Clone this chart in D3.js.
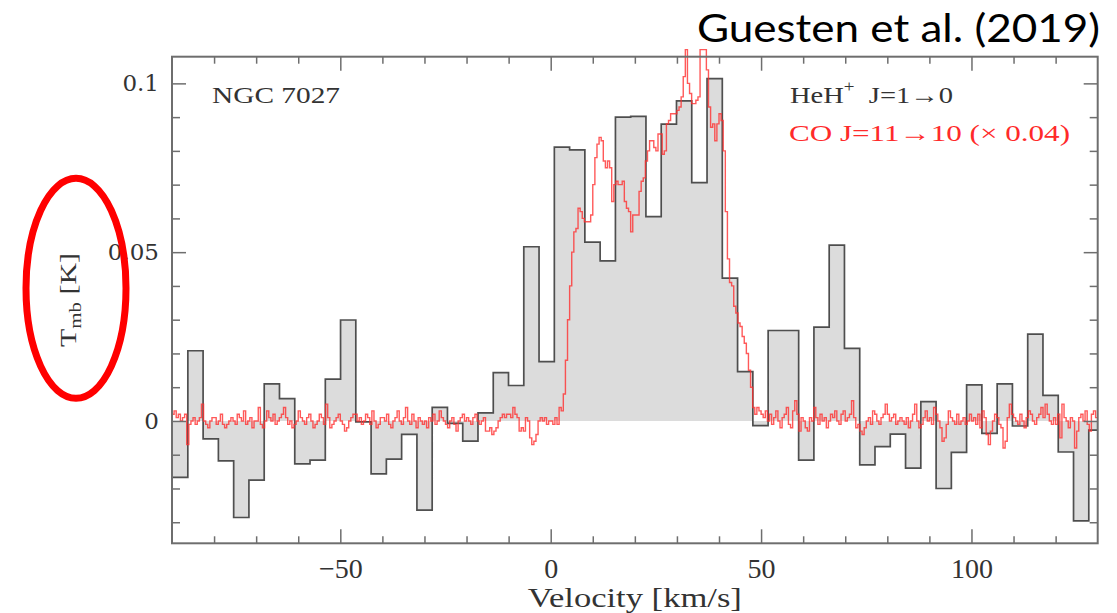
<!DOCTYPE html>
<html><head><meta charset="utf-8">
<script src="https://cdn.jsdelivr.net/npm/d3@7"></script>
<style>html,body{margin:0;padding:0;background:#fff;} svg{display:block}</style>
</head><body><svg id="c" width="1117" height="613"></svg>
<script>
// ---------------- DATA ----------------
// HeH+ J=1-0 spectrum: channel centres (km/s) and Tmb (K)
const hehVelocity = [-88.05,-84.42,-80.79,-77.16,-73.53,-69.90,-66.27,-62.64,-59.01,-55.38,
  -51.75,-48.13,-44.50,-40.87,-37.24,-33.61,-29.98,-26.35,-22.72,-19.09,
  -15.46,-11.84,-8.21,-4.58,-0.95,2.68,6.31,9.94,13.57,17.20,
  20.83,24.45,28.08,31.71,35.34,38.97,42.60,46.23,49.86,53.49,
  57.12,60.74,64.37,68.00,71.63,75.26,78.89,82.52,86.15,89.78,
  93.41,97.03,100.66,104.29,107.92,111.55,115.18,118.81,122.44,126.07,129.70];
const hehChannelWidth = 3.629;
const hehTmb = [-0.0167,0.0208,-0.0053,-0.0118,-0.0286,-0.0175,0.0110,0.0066,-0.0127,-0.0116,
  0.0124,0.0299,-0.0003,-0.0157,-0.0113,-0.0040,-0.0264,0.0040,-0.0007,-0.0060,
  0.0024,0.0143,0.0105,0.0516,0.0176,0.0811,0.0803,0.0530,0.0474,0.0900,
  0.0902,0.0605,0.0879,0.0948,0.0706,0.1014,0.0423,0.0146,-0.0014,0.0268,
  0.0268,-0.0116,0.0278,0.0521,0.0215,-0.0130,-0.0076,-0.0039,-0.0140,0.0057,
  -0.0200,-0.0093,0.0107,-0.0037,0.0110,-0.0015,0.0257,0.0076,-0.0092,-0.0296,-0.0027];

// CO J=11-10 (x 0.04) spectrum: regular channels from coStart, step coStep (km/s); Tmb in mK
const coStart = -90, coStep = 0.5;
const coTmb_mK = [
  2,3,1,2,0,1,2,-7,-1,0,1,-1,0,1,5,0,-1,-2,0,1,
  1,-1,0,2,-1,-2,-1,0,1,0,-1,2,1,0,3,-1,0,1,-2,0,
  0,4,-1,-2,0,3,1,0,2,-1,0,1,2,4,1,-1,0,-2,-1,0,
  3,1,0,-1,1,2,0,-2,-1,0,2,1,-1,5,1,-2,-1,0,1,2,
  0,-1,-3,-2,0,1,2,2,0,1,-1,0,2,1,-1,3,0,-2,-1,1,
  1,0,2,-1,-2,0,1,3,0,-1,1,4,0,-1,2,0,-2,1,0,-1,
  0,-2,1,0,2,-1,0,3,1,0,-1,-2,0,1,-1,-3,0,1,2,0,
  1,0,-1,1,2,0,-1,0,1,-3,-3,-2,-4,-3,-2,0,1,2,1,2,
  2,1,4,2,1,-3,-2,-3,1,0,-5,-7,-6,-4,0,1,0,1,-1,0,
  0,-1,1,-1,4,3,8,18,30,40,50,56,57,63,62,60,59,59,59,61,
  70,78,82,84,83,77,75,77,75,65,70,71,70,70,71,65,63,62,56,61,
  61,61,68,71,72,77,80,83,83,81,80,85,85,79,80,88,89,91,91,91,
  92,93,96,102,110,100,97,94,94,95,96,110,110,110,104,93,87,88,83,88,
  91,89,80,62,48,41,40,34,32,29,28,25,23,20,15,10,4,2,4,3,
  2,1,3,0,2,-1,1,3,0,-2,1,2,4,-1,-2,3,6,2,-3,1,
  0,-2,-3,1,0,4,1,-1,2,0,1,-2,0,2,1,3,0,-1,2,3,
  0,1,2,6,1,-2,-1,-3,-4,-2,0,1,-1,3,2,0,-1,1,2,5,
  2,0,1,2,-1,0,1,0,-1,1,-2,0,2,5,0,-2,-1,1,3,0,
  1,-1,4,2,0,-2,-6,-5,-1,3,1,0,-1,2,-1,0,1,-1,0,2,
  0,1,-1,2,-2,3,1,-4,-7,-3,0,2,1,-1,-2,-8,-6,1,5,2,
  1,0,-1,2,0,-2,1,3,2,0,-1,1,2,4,1,5,2,0,-1,1,
  -1,2,-5,5,1,0,-2,1,0,-8,-3,1,2,0,3,-1,-3,2,3,1];

const xDomain = [-90, 130];
const yDomain = [-0.03624, 0.1079];
const xMajorTicks = [-50, 0, 50, 100];
const xTickLabels = ["\u221250", "0", "50", "100"];
const xMinorTicks = [-80,-70,-60,-40,-30,-20,-10,10,20,30,40,60,70,80,90,110,120];
const yMajorTicks = [0, 0.05, 0.1];
const yTickLabels = ["0", "0.05", "0.1"];
const yMinorTicks = [-0.03,-0.02,-0.01,0.01,0.02,0.03,0.04,0.06,0.07,0.08,0.09];

// ---------------- CHART ----------------
const m = {l:172, t:56.7, r:1097.7, b:543.3};
const svg = d3.select('#c');
const x = d3.scaleLinear().domain(xDomain).range([m.l, m.r]);
const y = d3.scaleLinear().domain(yDomain).range([m.b, m.t]);

const defs = svg.append('defs');
defs.append('clipPath').attr('id','clipH').append('rect')
  .attr('x', m.l).attr('y', m.t).attr('width', m.r-m.l).attr('height', m.b-m.t);
defs.append('clipPath').attr('id','clipCO').append('rect')
  .attr('x', m.l).attr('y', 0).attr('width', m.r-m.l).attr('height', m.b);

// HeH+ histogram
const hehPts = [];
hehVelocity.forEach((v,i) => {
  hehPts.push([v - hehChannelWidth/2, hehTmb[i]]);
  hehPts.push([v + hehChannelWidth/2, hehTmb[i]]);
});
const gH = svg.append('g').attr('clip-path','url(#clipH)');
gH.append('path').datum(hehPts)
  .attr('d', d3.area().x(d=>x(d[0])).y0(y(0)).y1(d=>y(d[1])))
  .attr('fill', '#dcdcdc');
gH.append('path').datum(hehPts)
  .attr('d', d3.line().x(d=>x(d[0])).y(d=>y(d[1])))
  .attr('fill','none').attr('stroke','#333').attr('stroke-opacity',0.85)
  .attr('stroke-width',1.7);

// CO line
const coPts = coTmb_mK.map((t,i) => [coStart + i*coStep, t/1000]);
coPts.push([coStart + coTmb_mK.length*coStep, coTmb_mK[coTmb_mK.length-1]/1000]);
svg.append('g').attr('clip-path','url(#clipCO)').append('path').datum(coPts)
  .attr('d', d3.line().curve(d3.curveStepAfter).x(d=>x(d[0])).y(d=>y(d[1])))
  .attr('fill','none').attr('stroke','#ff3030').attr('stroke-opacity',0.8)
  .attr('stroke-width',1.4);

// Axes
const axisColor = '#6e6e6e';
function styleAxis(g){
  g.select('.domain').remove();
  g.selectAll('.tick line').attr('stroke', axisColor).attr('stroke-width', 1.5);
}
svg.append('g').attr('transform',`translate(${m.l},0)`)
  .call(d3.axisLeft(y).tickValues(yMinorTicks).tickSize(-8).tickFormat('')).call(styleAxis);
svg.append('g').attr('transform',`translate(${m.l},0)`)
  .call(d3.axisLeft(y).tickValues(yMajorTicks).tickSize(-14).tickPadding(13)
    .tickFormat((d,i)=>yTickLabels[i])).call(styleAxis)
  .selectAll('text').attr('font-family','DejaVu Serif').attr('font-size',23).attr('fill','#333');
svg.append('g').attr('transform',`translate(${m.r},0)`)
  .call(d3.axisRight(y).tickValues(yMinorTicks).tickSize(-8).tickFormat('')).call(styleAxis);
svg.append('g').attr('transform',`translate(${m.r},0)`)
  .call(d3.axisRight(y).tickValues(yMajorTicks).tickSize(-14).tickFormat('')).call(styleAxis);
svg.append('g').attr('transform',`translate(0,${m.t})`)
  .call(d3.axisTop(x).tickValues(xMinorTicks).tickSize(-7).tickFormat('')).call(styleAxis);
svg.append('g').attr('transform',`translate(0,${m.t})`)
  .call(d3.axisTop(x).tickValues(xMajorTicks).tickSize(-14).tickFormat('')).call(styleAxis);
svg.append('g').attr('transform',`translate(0,${m.b})`)
  .call(d3.axisBottom(x).tickValues(xMinorTicks).tickSize(-7).tickFormat('')).call(styleAxis);
svg.append('g').attr('transform',`translate(0,${m.b})`)
  .call(d3.axisBottom(x).tickValues(xMajorTicks).tickSize(-14).tickPadding(15)
    .tickFormat((d,i)=>xTickLabels[i])).call(styleAxis)
  .selectAll('text').attr('font-family','Liberation Serif').attr('font-size',28).attr('fill','#333');

// Frame
svg.append('rect').attr('x',m.l).attr('y',m.t).attr('width',m.r-m.l).attr('height',m.b-m.t)
  .attr('fill','none').attr('stroke',axisColor).attr('stroke-width',2);

// Texts
const serif = 'Liberation Serif';
svg.append('text').attr('x', (m.l+m.r)/2).attr('y', 607).attr('text-anchor','middle')
  .attr('font-family',serif).attr('font-size',28).attr('fill','#333')
  .attr('textLength',214).attr('lengthAdjust','spacingAndGlyphs')
  .text('Velocity [km/s]');

const yt = svg.append('text').attr('transform','translate(76,300) rotate(-90)')
  .attr('text-anchor','middle').attr('font-family',serif).attr('font-size',23).attr('fill','#333')
  .attr('textLength',94).attr('lengthAdjust','spacingAndGlyphs');
yt.append('tspan').text('T');
yt.append('tspan').attr('font-size',16).attr('dy',5).text('mb');
yt.append('tspan').attr('dy',-5).text('\u00A0[K]');

svg.append('text').attr('x',212).attr('y',103).attr('font-family',serif).attr('font-size',24)
  .attr('fill','#333').attr('textLength',128).attr('lengthAdjust','spacingAndGlyphs')
  .text('NGC 7027');

const l1 = svg.append('text').attr('x',790).attr('y',103).attr('font-family',serif).attr('font-size',24)
  .attr('fill','#333').attr('textLength',163).attr('lengthAdjust','spacingAndGlyphs');
l1.append('tspan').text('HeH');
l1.append('tspan').attr('font-size',16).attr('dy',-11).text('+');
l1.append('tspan').attr('dy',11).text('\u00A0\u00A0J=1\u21920');

svg.append('text').attr('x',789).attr('y',141).attr('font-family',serif).attr('font-size',24)
  .attr('fill','#ff2a2a').attr('textLength',281).attr('lengthAdjust','spacingAndGlyphs')
  .text('CO J=11\u219210 (\u00D7 0.04)');

// Title
svg.append('text').attr('x',697).attr('y',42).attr('font-family','Lato').attr('font-size',39)
  .attr('fill','#000').attr('textLength',403).attr('lengthAdjust','spacingAndGlyphs')
  .text('Guesten et al. (2019)');

// Red annotation ellipse
svg.append('ellipse').attr('cx',76).attr('cy',288.3).attr('rx',50).attr('ry',110)
  .attr('fill','none').attr('stroke','#ff0000').attr('stroke-width',7);
</script></body></html>
